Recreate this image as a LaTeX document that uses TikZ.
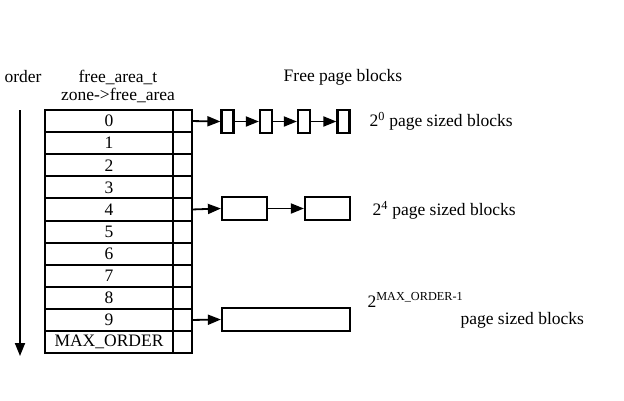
\documentclass[tikz,border=0pt]{standalone}
\usepackage{fontspec}
\setmainfont{Liberation Serif}
\usetikzlibrary{arrows.meta,positioning}

\tikzset{
  cellbox/.style={draw,line width=2pt,minimum width=128pt,minimum height=22.1pt,inner sep=0pt},
  ptrbox/.style={draw,line width=2pt,minimum width=19pt,minimum height=22.1pt,inner sep=0pt},
  blkbox/.style={draw,line width=2.2pt,minimum height=23pt,inner sep=0pt},
  link/.style={line width=1.8pt,-{Triangle[length=13pt,width=10pt]}},
}

\begin{document}
\begin{tikzpicture}[x=1pt,y=1pt,yscale=-1,xscale=1,font=\fontsize{17.5}{20}\selectfont]
\useasboundingbox (0,0) rectangle (624,400);

% Text Node
\node (order) at (23,77) {order};
% Text Node
\node (freearea) at (118,77) {free\_area\_t};
% Text Node
\node (zonefree) at (118,95) {zone->free\_area};
% Text Node
\node (freeblk) at (343,77) {Free page blocks};

%Shape: order arrow
\coordinate (ordtop) at (20,110);
\coordinate (ordbot) at (20,356);
\draw [link] (ordtop) -- (ordbot);

%Shape: free_area table
\foreach \i/\t in {0/0,1/1,2/2,3/3,4/4,5/5,6/6,7/7,8/8,9/9,10/MAX\_ORDER}{
  \node [cellbox] (cell\i) at (109,{110+22.1*(\i+0.5)}) {\t};
  \node [ptrbox] (ptr\i) at (182.5,{110+22.1*(\i+0.5)}) {};
}

%Shape: order 0 blocks
\node [blkbox,minimum width=12pt] (b01) at (227.5,121.5) {};
\node [blkbox,minimum width=12pt] (b02) at (266,121.5) {};
\node [blkbox,minimum width=12pt] (b03) at (304,121.5) {};
\node [blkbox,minimum width=12pt] (b04) at (343.5,121.5) {};
\draw [link] (ptr0.east) -- (b01.west);
\draw [link] (b01.east) -- (b02.west);
\draw [link] (b02.east) -- (b03.west);
\draw [link] (b03.east) -- (b04.west);

%Shape: order 4 blocks
\node [blkbox,minimum width=45pt] (b41) at (244.5,208.5) {};
\node [blkbox,minimum width=45pt] (b42) at (327.5,208.5) {};
\draw [link] (ptr4.east) -- (b41.west);
\draw [link] (b41.east) -- (b42.west);

%Shape: order 9 block
\node [blkbox,minimum width=128pt] (b91) at (286,319.5) {};
\draw [link] (ptr9.east) -- (b91.west);

% Text Node
\node [anchor=west] (lbl0) at (366,121) {2\textsuperscript{0} page sized blocks};
% Text Node
\node [anchor=west] (lbl4) at (369,210) {2\textsuperscript{4} page sized blocks};
% Text Node
\node [anchor=west] (lbl9a) at (364,300) {2\textsuperscript{MAX\_ORDER-1}};
% Text Node
\node [anchor=west] (lbl9b) at (457,320) {page sized blocks};

\end{tikzpicture}
\end{document}
